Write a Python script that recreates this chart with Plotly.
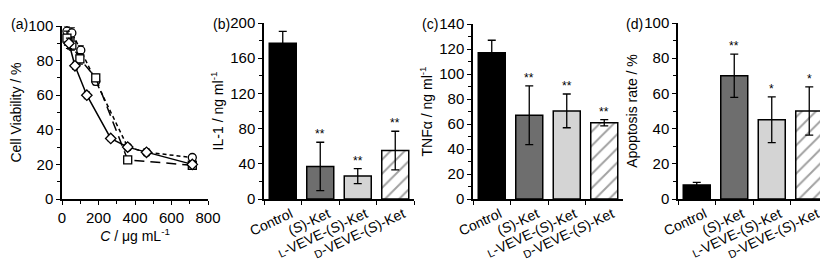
import plotly.graph_objects as go

# ---------------- data ----------------
# Panel (a): cell viability vs concentration
dia_x = [38, 71, 136, 267, 360, 463, 714]
dia_y = [90, 77, 60, 35, 30, 27, 20]
dia_e = [3, 2, 2, 1.5, 1.5, 2, 1.5]
cir_x = [27, 54, 103, 185, 360, 463, 714]
cir_y = [97, 96, 86, 68, 30, 27, 24]
cir_e = [3, 3, 2.5, 2, 1.5, 1.5, 1.5]
sq_x = [27, 54, 98, 185, 360, 714]
sq_y = [93, 89, 81, 70, 22.6, 19.5]
sq_e = [4, 3, 3, 2, 1, 1.5]

cats = ["Control", "(<i>S</i>)-Ket",
        "<span style='font-size:11px'>L</span>-VEVE-(<i>S</i>)-Ket",
        "<span style='font-size:11px'>D</span>-VEVE-(<i>S</i>)-Ket"]
il1 = [177, 37, 26, 55]
il1_err = [13.5, 27.5, 8.5, 22]
il1_sig = ["", "**", "**", "**"]
tnf = [117, 67, 70.5, 61]
tnf_err = [10, 23.5, 13.5, 2.5]
tnf_sig = ["", "**", "**", "**"]
apo = [8, 70, 45, 50]
apo_err = [1.5, 12.3, 13, 13.7]
apo_sig = ["", "**", "*", "*"]

bar_colors = ["#000000", "#6e6e6e", "#d4d4d4", "#ffffff"]
bar_patterns = ["", "", "", "/"]

FONT = "Liberation Sans, Arial, sans-serif"
TICK_FS = 15
TITLE_FS = 14
CAT_FS = 14
W, H = 828, 260

fig = go.Figure()

# ---------------- panel (a) ----------------
def line_trace(x, y, e, symbol, dash):
    return go.Scatter(
        x=x, y=y, mode="lines+markers",
        line=dict(color="black", width=1.5, dash=dash),
        marker=dict(symbol=symbol, size=8, color="white",
                    line=dict(color="black", width=1.3)),
        error_y=dict(type="data", array=e, color="black", thickness=1.2, width=3),
        xaxis="x", yaxis="y", showlegend=False)

fig.add_trace(line_trace(cir_x, cir_y, cir_e, "circle", "4px,3px"))
fig.add_trace(line_trace(sq_x, sq_y, sq_e, "square", "10px,6px"))
fig.add_trace(line_trace(dia_x, dia_y, dia_e, "diamond", "solid"))

# ---------------- bar panels ----------------
panels = [
    ("x2", "y2", il1, il1_err, il1_sig),
    ("x3", "y3", tnf, tnf_err, tnf_sig),
    ("x4", "y4", apo, apo_err, apo_sig),
]
for xa, ya, vals, errs, sigs in panels:
    fig.add_trace(go.Bar(
        x=cats, y=vals, width=0.72,
        marker=dict(color=bar_colors, line=dict(color="black", width=1.5),
                    pattern=dict(shape=bar_patterns, fgcolor="black",
                                 bgcolor="white", size=10, solidity=0.2)),
        error_y=dict(type="data", array=errs, color="black", thickness=1.3, width=4),
        xaxis=xa, yaxis=ya, showlegend=False))
    for c, v, e, s in zip(cats, vals, errs, sigs):
        if s:
            fig.add_annotation(x=c, y=v + e, xref=xa, yref=ya, text=s,
                               showarrow=False, yanchor="bottom", yshift=-1,
                               font=dict(size=12, color="black", family=FONT))

# ---------------- axes ----------------
def px_x(a, b):
    return [a / W, b / W]

def px_y(top, bottom):
    return [(H - bottom) / H, (H - top) / H]

axis_common = dict(showline=True, linecolor="black", linewidth=1.5,
                   ticks="outside", tickcolor="black", tickwidth=1.3, ticklen=4,
                   showgrid=False, zeroline=False, mirror=False, automargin=False,
                   tickfont=dict(size=TICK_FS, color="black", family=FONT))
minor = dict(ticks="outside", ticklen=3, tickcolor="black", tickwidth=1.2, showgrid=False)

layout = dict(
    width=W, height=H, margin=dict(l=0, r=0, t=0, b=0),
    paper_bgcolor="white", plot_bgcolor="white",
    font=dict(family=FONT, color="black", size=TITLE_FS),
)

layout["xaxis"] = dict(axis_common, domain=px_x(54, 200), range=[0, 800], dtick=200,
                       anchor="y", minor=dict(minor, dtick=100),
                       title=dict(text="<i>C</i> / μg mL<sup>-1</sup>", standoff=0,
                                  font=dict(size=TITLE_FS)))
layout["yaxis"] = dict(axis_common, domain=px_y(18, 191), range=[0, 100], dtick=20,
                       anchor="x", minor=dict(minor, dtick=10),
                       title=dict(text="Cell Viability / %", standoff=3,
                                  font=dict(size=TITLE_FS)))

bar_specs = [
    ("2", px_x(256, 406), px_y(15, 191), [0, 200], 40, 20, "IL-1 / ng ml<sup>-1</sup>"),
    ("3", px_x(465, 615), px_y(16, 191), [0, 140], 20, 10, "TNFα / ng ml<sup>-1</sup>"),
    ("4", px_x(670, 820), px_y(15, 191), [0, 100], 20, 10, "Apoptosis rate / %"),
]
for n, dx, dy, rng, dt, mdt, title in bar_specs:
    layout["xaxis" + n] = dict(axis_common, domain=dx, anchor="y" + n, type="category",
                               range=[-0.5, 3.5], tickson="boundaries", tickangle=-25,
                               ticklabelshift=8,
                               tickfont=dict(size=CAT_FS, color="black", family=FONT))
    layout["yaxis" + n] = dict(axis_common, domain=dy, anchor="x" + n, range=rng,
                               dtick=dt, minor=dict(minor, dtick=mdt),
                               title=dict(text=title, standoff=3, font=dict(size=TITLE_FS)))

fig.update_layout(**layout)

# panel letters (right edge placed just before the top tick label)
for label, xr in [("(a)", 21), ("(b)", 223), ("(c)", 431), ("(d)", 636)]:
    fig.add_annotation(x=xr / W, y=(H - 16) / H, xref="paper", yref="paper",
                       text=label, showarrow=False, xanchor="right", yanchor="middle",
                       borderpad=0,
                       font=dict(size=TITLE_FS, color="black", family=FONT))

fig.write_html("out.html")
